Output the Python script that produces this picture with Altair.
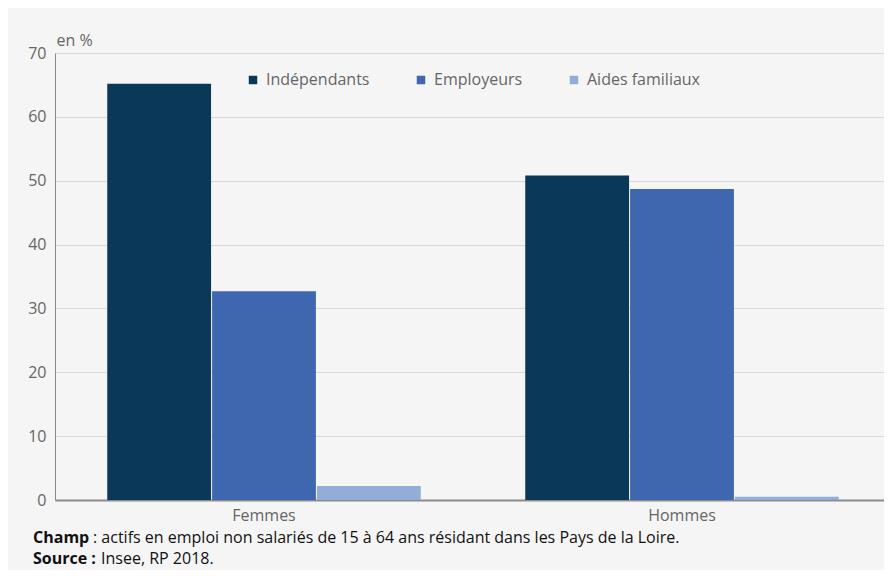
import altair as alt
import pandas as pd

sexes = ["Femmes", "Hommes"]
statuts = ["Indépendants", "Employeurs", "Aides familiaux"]
femmes = [65.2, 32.7, 2.2]
hommes = [50.8, 48.7, 0.5]
y_ticks = [0, 10, 20, 30, 40, 50, 60, 70]
colors = ["#0a3858", "#3e67b0", "#93acd8"]
unit_label = "en %"
champ_label = "Champ"
champ_text = ": actifs en emploi non salariés de 15 à 64 ans résidant dans les Pays de la Loire."
source_label = "Source :"
source_text = "Insee, RP 2018."

rows = []
for sexe, vals in zip(sexes, [femmes, hommes]):
    for s, v in zip(statuts, vals):
        rows.append({"sexe": sexe, "statut": s, "valeur": v})
df = pd.DataFrame(rows)

W, H = 829, 447
GRAY = "#666666"
FONT = "Open Sans"
FS = 16

bars = alt.Chart(df).mark_bar().encode(
    x=alt.X(
        "sexe:N", sort=sexes, title=None,
        scale=alt.Scale(paddingInner=0.25, paddingOuter=0.125, range=[0, 836]),
        axis=alt.Axis(labelAngle=0, labelFontSize=FS, labelColor=GRAY, labelPadding=7,
                      ticks=False, domainColor="#8c8c8c", domainWidth=2, grid=False),
    ),
    xOffset=alt.XOffset("statut:N", sort=statuts, scale=alt.Scale(paddingInner=0.01)),
    y=alt.Y(
        "valeur:Q", scale=alt.Scale(domain=[0, 70], nice=False),
        axis=alt.Axis(values=y_ticks, title=unit_label, titleAngle=0, titleAlign="left",
                      titleBaseline="middle", titleX=1, titleY=-13, titleFontSize=FS,
                      titleFontWeight="normal", titleColor=GRAY, labelFontSize=FS,
                      labelColor=GRAY, labelPadding=9, ticks=False, domainColor="#888888",
                      domainWidth=1, gridColor="#d9d9d9", gridWidth=1),
    ),
    color=alt.Color(
        "statut:N", sort=statuts,
        scale=alt.Scale(domain=statuts, range=colors),
        legend=alt.Legend(orient="none", legendX=190, legendY=19, direction="horizontal",
                          title=None, symbolType="square", symbolSize=72,
                          symbolStrokeWidth=0, labelFontSize=FS, labelColor=GRAY,
                          columnPadding=43, labelOffset=5),
    ),
)


def note(text, x, y, bold):
    return alt.Chart(pd.DataFrame({"t": [text]})).mark_text(
        align="left", baseline="middle", fontSize=FS, font=FONT,
        fontWeight="bold" if bold else "normal", color="#111111"
    ).encode(text="t:N", x=alt.value(x), y=alt.value(y))


chart = alt.layer(
    bars,
    note(champ_label, -22, 485, True),
    note(champ_text, 38, 485, False),
    note(source_label, -22, 506, True),
    note(source_text, 46, 506, False),
).properties(
    width=W, height=H,
    autosize=alt.AutoSizeParams(type="none"),
    padding={"left": 47, "top": 45, "right": 0, "bottom": 70},
    background="#f5f5f5",
).configure(font=FONT).configure_view(stroke=None)

chart.save("out.html", embed_options={"renderer": "svg", "actions": False})
